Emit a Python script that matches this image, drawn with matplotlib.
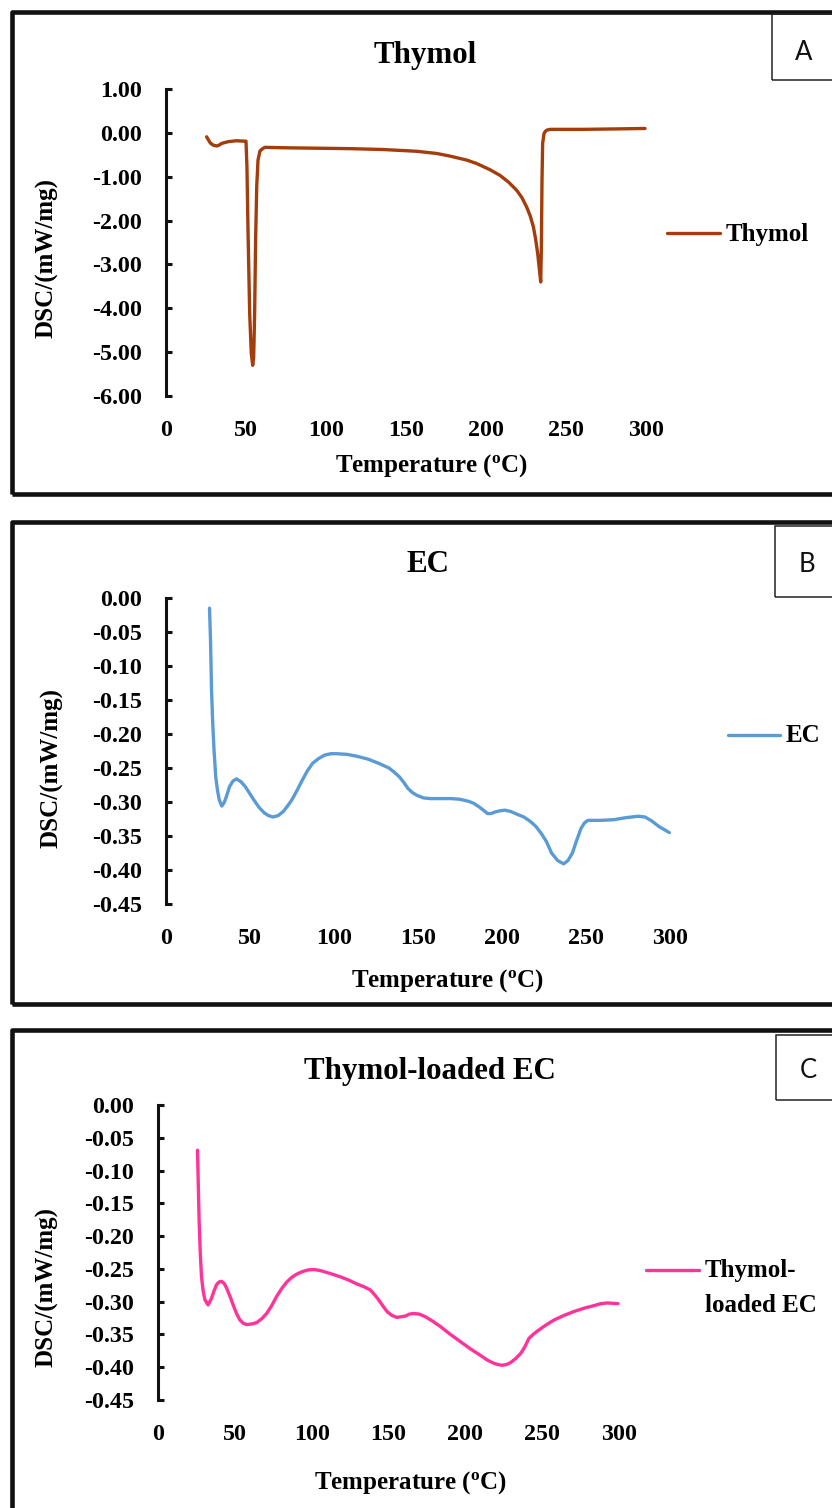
import matplotlib
matplotlib.use("Agg")
import matplotlib.pyplot as plt
from matplotlib.patches import Rectangle
from matplotlib.lines import Line2D

# ---------------- data ----------------
thymol_T = [25.4, 26.5, 27.5, 28.6, 29.6, 31.7, 33.2, 34.8, 39.0, 44.2, 49.0, 50.0, 50.6, 51.25,
            52.3, 53.3, 54.2, 54.8, 55.4, 56.0, 56.7, 57.5, 58.75, 60.8, 61.9, 73.3, 94.2,
            115.0, 135.8, 156.7, 169.2, 177.5, 187.9, 194.2, 202.5, 208.75, 214.0,
            219.2, 222.5, 225.4, 227.6, 229.6, 231.0, 232.3, 233.3, 234.2, 234.6, 235.0,
            235.4, 236.25, 237.0, 237.9, 240.0, 260.8, 281.7, 299.4]
thymol_dsc = [-0.09, -0.16, -0.22, -0.26, -0.28, -0.30, -0.28, -0.24, -0.20, -0.18, -0.19, -0.19,
              -0.78, -2.22, -4.12, -5.03, -5.30, -5.11, -4.12, -2.45, -1.23, -0.62, -0.41,
              -0.35, -0.33, -0.34, -0.35, -0.36, -0.38, -0.42, -0.47, -0.53, -0.62, -0.70,
              -0.84, -0.97, -1.12, -1.31, -1.48, -1.69, -1.89, -2.14, -2.42, -2.75, -3.09,
              -3.40, -2.60, -1.08, -0.24, -0.02, 0.03, 0.06, 0.08, 0.08, 0.09, 0.10]

ec_T = [25.9, 26.5, 27.1, 27.8, 28.6, 29.6, 30.6, 31.7, 33.2, 34.8, 36.2, 37.9, 39.9, 42.0,
        44.5, 47.1, 49.7, 52.3, 55.4, 58.5, 61.0, 63.6, 66.7, 69.8, 72.3, 74.9, 78.0, 81.1,
        84.2, 87.3, 90.9, 94.5, 98.1, 101.7, 107.9, 114.1, 120.3, 126.5, 132.7, 135.8,
        138.9, 141.5, 144.0, 146.6, 149.2, 153.3, 157.4, 163.6, 169.8, 175.0, 180.1,
        183.2, 186.3, 188.9, 191.4, 193.5, 195.5, 198.6, 201.7, 205.3, 208.9, 213.0,
        217.1, 220.2, 223.3, 226.4, 229.5, 233.1, 236.7, 239.3, 241.9, 244.5, 247.0,
        249.0, 251.1, 258.9, 266.6, 273.8, 281.0, 285.1, 289.2, 293.4, 299.6]
ec_dsc = [-0.015, -0.062, -0.135, -0.184, -0.224, -0.263, -0.282, -0.297, -0.306, -0.300,
          -0.290, -0.277, -0.269, -0.266, -0.270, -0.277, -0.287, -0.297, -0.308, -0.316,
          -0.320, -0.322, -0.320, -0.314, -0.306, -0.297, -0.283, -0.268, -0.254, -0.243,
          -0.236, -0.231, -0.229, -0.229, -0.230, -0.233, -0.237, -0.243, -0.250, -0.256,
          -0.263, -0.271, -0.280, -0.286, -0.290, -0.294, -0.295, -0.295, -0.295, -0.296,
          -0.299, -0.302, -0.307, -0.312, -0.317, -0.317, -0.315, -0.313, -0.312, -0.314,
          -0.318, -0.322, -0.329, -0.336, -0.346, -0.358, -0.375, -0.386, -0.391, -0.386,
          -0.375, -0.356, -0.339, -0.331, -0.327, -0.327, -0.326, -0.323, -0.321, -0.322,
          -0.328, -0.336, -0.345]

tec_T = [25.7, 26.2, 26.8, 27.5, 28.3, 29.4, 30.5, 32.6, 34.8, 36.4, 38.1, 39.7, 41.3, 43.0,
         44.6, 46.7, 48.9, 51.1, 53.3, 55.5, 57.7, 61.0, 64.2, 67.5, 70.7, 74.0, 77.2, 80.5,
         83.8, 87.0, 90.3, 94.1, 97.9, 101.7, 105.5, 112.0, 118.5, 124.0, 129.4, 133.8,
         138.1, 140.8, 143.5, 146.2, 149.0, 152.2, 155.5, 158.2, 160.9, 163.6, 166.3, 170.1,
         174.0, 178.9, 183.8, 190.3, 196.8, 203.3, 209.9, 214.2, 218.5, 221.2, 224.0,
         226.7, 229.4, 232.7, 236.0, 238.7, 241.4, 244.1, 246.8, 252.2, 257.7, 264.2,
         270.7, 277.2, 283.8, 288.1, 292.5, 299.4]
tec_dsc = [-0.069, -0.120, -0.180, -0.225, -0.262, -0.284, -0.297, -0.305, -0.295, -0.284,
           -0.274, -0.270, -0.269, -0.272, -0.279, -0.291, -0.305, -0.318, -0.328, -0.333,
           -0.335, -0.334, -0.332, -0.326, -0.318, -0.306, -0.292, -0.280, -0.270, -0.263,
           -0.258, -0.254, -0.2515, -0.2510, -0.2525, -0.257, -0.262, -0.267, -0.273,
           -0.277, -0.282, -0.289, -0.297, -0.306, -0.315, -0.321, -0.324, -0.323, -0.322,
           -0.319, -0.318, -0.319, -0.323, -0.330, -0.338, -0.350, -0.361, -0.372, -0.382,
           -0.389, -0.394, -0.396, -0.397, -0.396, -0.393, -0.387, -0.379, -0.369, -0.356,
           -0.350, -0.345, -0.336, -0.328, -0.321, -0.315, -0.310, -0.306, -0.303, -0.302,
           -0.303]

x_ticks = [0, 50, 100, 150, 200, 250, 300]
yticks_A = [1.0, 0.0, -1.0, -2.0, -3.0, -4.0, -5.0, -6.0]
yticks_BC = [0.0, -0.05, -0.10, -0.15, -0.20, -0.25, -0.30, -0.35, -0.40, -0.45]

titles = ["Thymol", "EC", "Thymol-loaded EC"]
legend_labels = ["Thymol", "EC", "Thymol-\nloaded EC"]
panel_letters = ["A", "B", "C"]
colors = ["#A33D0B", "#5B9BD5", "#FF3399"]
x_label = r"Temperature ($\mathregular{^o}$C)"
y_label = "DSC/(mW/mg)"

# ---------------- figure ----------------
W, H = 832, 1508
plt.rcParams["font.family"] = ["Liberation Serif", "DejaVu Serif"]
plt.rcParams["font.weight"] = "bold"
plt.rcParams["axes.labelweight"] = "bold"

fig = plt.figure(figsize=(W / 100, H / 100), dpi=100)


def fx(x):
    return x / W


def fy(y):
    return 1 - y / H


TICK_PT = 17.3
LAB_PT = 18
TITLE_PT = 22.3

panels = [
    dict(T=thymol_T, v=thymol_dsc, yt=yticks_A, ylim=(-6, 1),
         ax=(166, 646, 89, 396), frame=(12, 12, 494), box=(772, 14, 80),
         title=(425, 55), letter=(804, 52), xl=(432, 466), yl=(47, 258),
         leg=(667, 720, 233)),
    dict(T=ec_T, v=ec_dsc, yt=yticks_BC, ylim=(-0.45, 0),
         ax=(166, 670, 598, 904), frame=(12, 522, 1004), box=(775, 526, 597),
         title=(428, 565), letter=(807, 564), xl=(448, 981), yl=(52, 768),
         leg=(728, 780, 735)),
    dict(T=tec_T, v=tec_dsc, yt=yticks_BC, ylim=(-0.45, 0),
         ax=(158, 619, 1105, 1400), frame=(12, 1030, 1540), box=(776, 1035, 1100),
         title=(430, 1071), letter=(808, 1071), xl=(411, 1483), yl=(47, 1287),
         leg=(646, 699, 1270)),
]

for i, p in enumerate(panels):
    l, r, t, b = p["ax"]
    ax = fig.add_axes([fx(l), fy(b), (r - l) / W, (b - t) / H])
    ax.plot(p["T"], p["v"], color=colors[i], lw=2.4, solid_joinstyle="round",
            solid_capstyle="round", clip_on=False)
    ax.set_xlim(0, 300)
    ax.set_ylim(*p["ylim"])
    ax.set_xticks(x_ticks)
    ax.set_xticklabels([str(t_) for t_ in x_ticks])
    ax.set_yticks(p["yt"])
    ax.set_yticklabels([("%.2f" % v_).replace("-0.00", "0.00") for v_ in p["yt"]])
    for s in ["top", "right", "bottom"]:
        ax.spines[s].set_visible(False)
    ax.spines["left"].set_linewidth(2.2)
    ax.spines["left"].set_color("#111111")
    ax.tick_params(axis="y", direction="in", length=4.5, width=2.2, color="#111111",
                   labelsize=TICK_PT, pad=17)
    ax.tick_params(axis="x", length=0, labelsize=TICK_PT, pad=17)
    for lab in ax.get_xticklabels() + ax.get_yticklabels():
        lab.set_fontweight("bold")
    ax.patch.set_alpha(0)

    # frame
    fl, ft, fb = p["frame"]
    fig.add_artist(Rectangle((fx(fl), fy(fb)), (900 - fl) / W, (fb - ft) / H,
                             transform=fig.transFigure, fill=False, lw=3.3,
                             edgecolor="#111111", joinstyle="round", clip_on=False))
    # letter box
    bl, bt, bb = p["box"]
    fig.add_artist(Rectangle((fx(bl), fy(bb)), (900 - bl) / W, (bb - bt) / H,
                             transform=fig.transFigure, fill=False, lw=1.1,
                             edgecolor="#222222", clip_on=False))
    fig.text(fx(p["letter"][0]), fy(p["letter"][1]), panel_letters[i],
             family=["Lato", "DejaVu Sans"], fontweight="normal", fontsize=18.5,
             ha="center", va="center", color="#111111")
    # title
    fig.text(fx(p["title"][0]), fy(p["title"][1]), titles[i], fontsize=TITLE_PT,
             fontweight="bold", ha="center", va="center")
    # axis labels
    fig.text(fx(p["xl"][0]), fy(p["xl"][1]), x_label, fontsize=LAB_PT,
             fontweight="bold", ha="center", va="center")
    fig.text(fx(p["yl"][0]), fy(p["yl"][1]), y_label, fontsize=LAB_PT,
             fontweight="bold", ha="center", va="center", rotation=90)
    # legend
    x0, x1, ly = p["leg"]
    fig.add_artist(Line2D([fx(x0), fx(x1)], [fy(ly), fy(ly)], transform=fig.transFigure,
                          color=colors[i], lw=2.4, solid_capstyle="round"))
    lines = legend_labels[i].split("\n")
    for k, txt in enumerate(lines):
        fig.text(fx(x1 + 6), fy(ly + 1 + 35 * k), txt, fontsize=LAB_PT,
                 fontweight="bold", ha="left", va="center")

fig.savefig("out.png", dpi=100)
